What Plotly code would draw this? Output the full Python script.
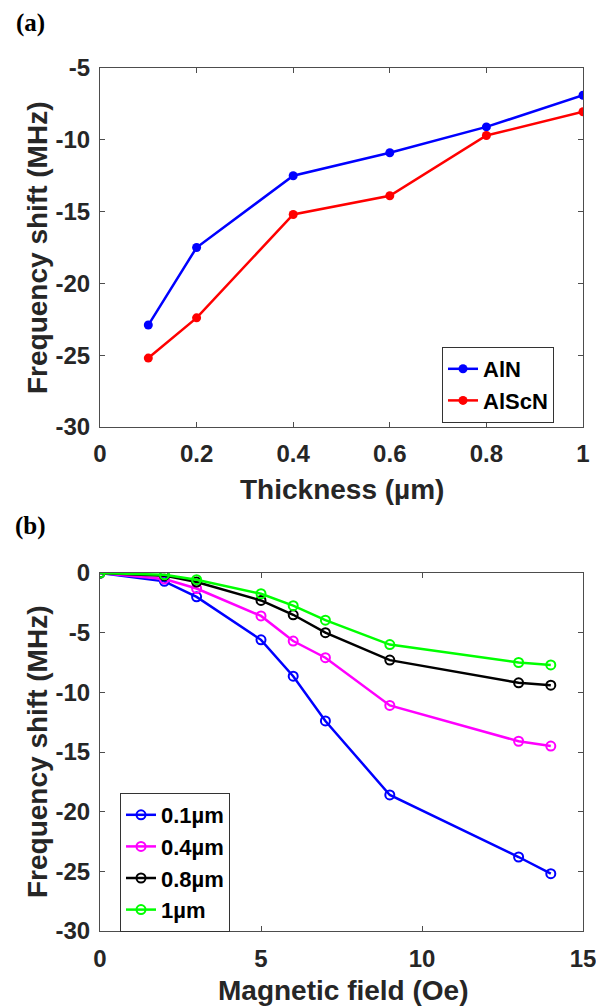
import plotly.graph_objects as go

# ---- Data: panel (a) ----
thickness = [0.1, 0.2, 0.4, 0.6, 0.8, 1.0]
aln_shift = [-22.9, -17.5, -12.5, -10.9, -9.1, -6.9]
alscn_shift = [-25.2, -22.4, -15.2, -13.9, -9.7, -8.05]
x_ticks_a = [0, 0.2, 0.4, 0.6, 0.8, 1]
y_ticks_a = [-30, -25, -20, -15, -10, -5]

# ---- Data: panel (b) ----
field = [0, 2, 3, 5, 6, 7, 9, 13, 14]
shift_01 = [0, -0.7, -2.0, -5.6, -8.65, -12.4, -18.6, -23.8, -25.2]
shift_04 = [0, -0.5, -1.3, -3.6, -5.7, -7.1, -11.1, -14.1, -14.5]
shift_08 = [0, -0.22, -0.76, -2.3, -3.5, -5.0, -7.3, -9.2, -9.4]
shift_1 = [0, -0.15, -0.56, -1.74, -2.74, -3.95, -6.0, -7.5, -7.7]
x_ticks_b = [0, 5, 10, 15]
y_ticks_b = [-30, -25, -20, -15, -10, -5, 0]

FONT = "Liberation Sans"
TXT = "#262626"

def lab(v):
    return f"{v:g}"

fig = go.Figure()

fig.add_trace(go.Scatter(x=thickness, y=aln_shift, name="AlN", mode="lines+markers",
                         line=dict(color="#0000ff", width=2.5),
                         marker=dict(symbol="circle", size=9, color="#0000ff"),
                         xaxis="x", yaxis="y", legend="legend"))
fig.add_trace(go.Scatter(x=thickness, y=alscn_shift, name="AlScN", mode="lines+markers",
                         line=dict(color="#ff0000", width=2.5),
                         marker=dict(symbol="circle", size=9, color="#ff0000"),
                         xaxis="x", yaxis="y", legend="legend"))

series_b = [("0.1µm", shift_01, "#0000ff"), ("0.4µm", shift_04, "#ff00ff"),
            ("0.8µm", shift_08, "#000000"), ("1µm", shift_1, "#00ff00")]
for name, ys, col in series_b:
    fig.add_trace(go.Scatter(x=field, y=ys, name=name, mode="lines+markers",
                             line=dict(color=col, width=2.5),
                             marker=dict(symbol="circle-open", size=9, color=col,
                                         line=dict(width=2, color=col)),
                             xaxis="x2", yaxis="y2", legend="legend2"))

# page has an 8px body margin: figure pixel = page pixel - OFF
OFF = 8
W, H = 604 - OFF, 1008 - OFF
L, R, T, B = 100 - OFF, 21, 68 - OFF, 77
pw = W - L - R
ph = H - T - B

def px_y(page_y):
    return (H - B - (page_y - OFF)) / ph

def px_x(page_x):
    return (page_x - OFF - L) / pw

axis_common = dict(showgrid=False, zeroline=False, showline=True, linecolor="#4d4d4d",
                   linewidth=1, mirror="ticks", ticks="inside", ticklen=5,
                   tickcolor="#4d4d4d", automargin=False,
                   tickfont=dict(family=FONT, size=24, color=TXT, weight="bold"))
title_font = dict(family=FONT, size=28, color=TXT, weight="bold")
legend_font = dict(family=FONT, size=22, color="#000000", weight="bold")
panel_font = dict(family="Liberation Serif", size=25, color="#000000", weight="bold")

def note(text, x, y, font, angle=0):
    return dict(text=text, xref="paper", yref="paper", x=px_x(x), y=px_y(y),
                xanchor="center", yanchor="middle", showarrow=False,
                textangle=angle, font=font)

fig.update_layout(
    width=W, height=H,
    margin=dict(l=L, r=R, t=T, b=B, autoexpand=False),
    paper_bgcolor="white", plot_bgcolor="white",
    xaxis=dict(domain=[0, 1], anchor="y", range=[0, 1],
               tickvals=x_ticks_a, ticktext=[lab(v) for v in x_ticks_a],
               ticklabelstandoff=5, **axis_common),
    yaxis=dict(domain=[px_y(427), 1], anchor="x", range=[-30, -5],
               tickvals=y_ticks_a, ticktext=[lab(v) for v in y_ticks_a],
               ticklabelstandoff=4, **axis_common),
    xaxis2=dict(domain=[0, 1], anchor="y2", range=[0, 15],
                tickvals=x_ticks_b, ticktext=[lab(v) for v in x_ticks_b],
                ticklabelstandoff=6, **axis_common),
    yaxis2=dict(domain=[0, px_y(573)], anchor="x2", range=[-30, 0],
                tickvals=y_ticks_b, ticktext=[lab(v) for v in y_ticks_b],
                ticklabelstandoff=4, **axis_common),
    legend=dict(x=px_x(442), y=px_y(347),
                xanchor="left", yanchor="top", bgcolor="white",
                bordercolor="#333333", borderwidth=1, tracegroupgap=0,
                font=legend_font, itemwidth=30),
    legend2=dict(x=px_x(120), y=px_y(793),
                 xanchor="left", yanchor="top", bgcolor="white",
                 bordercolor="#333333", borderwidth=1, tracegroupgap=0,
                 font=legend_font, itemwidth=30),
    showlegend=True,
    annotations=[
        note("(a)", 30, 23, panel_font),
        note("(b)", 30, 526, panel_font),
        note("Thickness (µm)", 342, 489, title_font),
        note("Magnetic field (Oe)", 343, 990, title_font),
        note("Frequency shift (MHz)", 37, 248, title_font, angle=-90),
        note("Frequency shift (MHz)", 37, 752, title_font, angle=-90),
    ],
)

fig.write_html("out.html")
